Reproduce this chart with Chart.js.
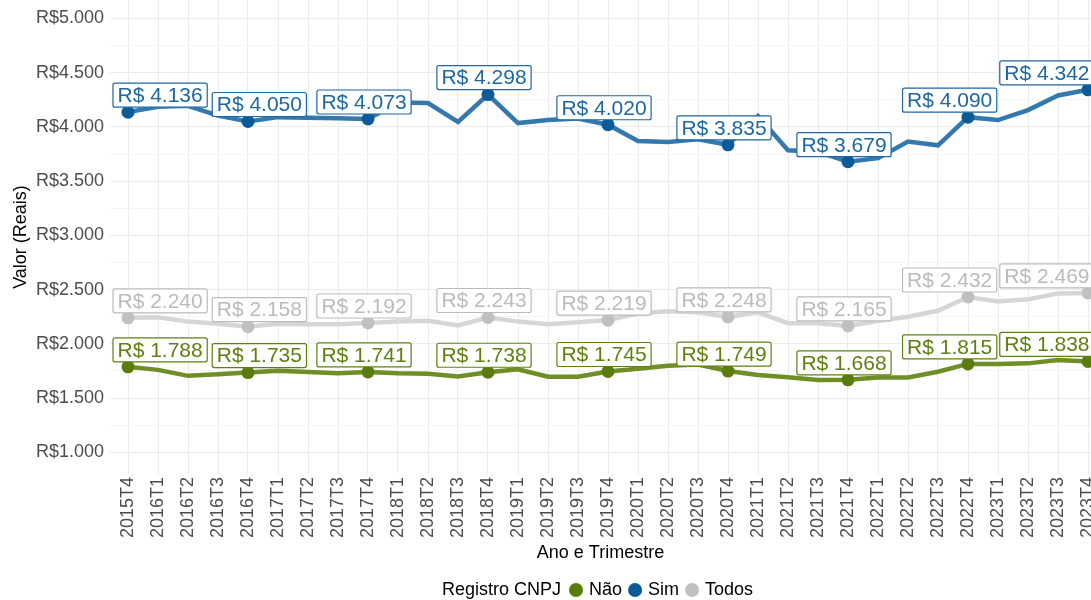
<!DOCTYPE html>
<html>
<head>
<meta charset="utf-8">
<script src="https://cdn.jsdelivr.net/npm/chart.js@4.4.1/dist/chart.umd.min.js"></script>
<style>
  body { margin: 0; background: #ffffff; }
  #wrap { width: 1091px; height: 600px; }
</style>
</head>
<body>
<div id="wrap"><canvas id="chart" width="1091" height="600"></canvas></div>
<script>
// Quarters on the x axis
const quarters = [
  '2015T4',
  '2016T1', '2016T2', '2016T3', '2016T4',
  '2017T1', '2017T2', '2017T3', '2017T4',
  '2018T1', '2018T2', '2018T3', '2018T4',
  '2019T1', '2019T2', '2019T3', '2019T4',
  '2020T1', '2020T2', '2020T3', '2020T4',
  '2021T1', '2021T2', '2021T3', '2021T4',
  '2022T1', '2022T2', '2022T3', '2022T4',
  '2023T1', '2023T2', '2023T3', '2023T4'
];

// Series values (R$)
const sim = [4136, 4185, 4195, 4105, 4050, 4090, 4085, 4080, 4073, 4225, 4220, 4045, 4298,
  4035, 4063, 4078, 4020, 3870, 3860, 3885, 3835, 4100, 3785, 3770, 3679,
  3712, 3865, 3830, 4090, 4063, 4155, 4290, 4342];
const todos = [2240, 2245, 2205, 2185, 2158, 2185, 2180, 2180, 2192, 2205, 2213, 2170, 2243,
  2205, 2180, 2200, 2219, 2280, 2300, 2290, 2248, 2290, 2190, 2190, 2165,
  2210, 2250, 2305, 2432, 2390, 2410, 2465, 2469];
const nao = [1788, 1760, 1705, 1720, 1735, 1752, 1740, 1728, 1741, 1728, 1724, 1700, 1738,
  1765, 1697, 1697, 1745, 1771, 1798, 1810, 1749, 1712, 1691, 1667, 1668,
  1690, 1690, 1743, 1815, 1815, 1820, 1850, 1838];

// Y ticks (major every 500, minor every 250)
const yTicks = [1000, 1250, 1500, 1750, 2000, 2250, 2500, 2750, 3000, 3250, 3500, 3750, 4000, 4250, 4500, 4750, 5000];

const fmt = v => Math.round(v).toString().replace(/\B(?=(\d{3})+(?!\d))/g, '.');

const series = [
  { label: 'Não', values: nao, line: '#6f8f26', point: '#5a7c0c', text: '#5e800f' },
  { label: 'Sim', values: sim, line: '#3479ad', point: '#0b5b99', text: '#1d67a3' },
  { label: 'Todos', values: todos, line: '#d6d6d6', point: '#c0c0c0', text: '#bbbbbb' }
];

const isT4 = i => i % 4 === 0;

// Boxed value labels on every 4th quarter
const labelPlugin = {
  id: 'valueLabels',
  afterDatasetsDraw(chart) {
    const ctx = chart.ctx;
    const area = chart.chartArea;
    ctx.save();
    ctx.font = '21px "Liberation Sans", Arial, sans-serif';
    ctx.textBaseline = 'middle';
    ctx.textAlign = 'left';
    chart.data.datasets.forEach((ds, di) => {
      const meta = chart.getDatasetMeta(di);
      const s = series[di];
      const boxes = [];
      ds.data.forEach((d, i) => {
        if (!isT4(i)) return;
        const el = meta.data[i];
        const text = 'R$ ' + fmt(d.y);
        const w = ctx.measureText(text).width + 9;
        const h = 24;
        let left = el.x - 4 - w / 2;
        left = Math.max(left, area.left + 3);
        boxes.push({ text, left, w, h, bottom: el.y - 5 });
      });
      // push right
      for (let k = 1; k < boxes.length; k++) {
        const minLeft = boxes[k - 1].left + boxes[k - 1].w + 5;
        if (boxes[k].left < minLeft) boxes[k].left = minLeft;
      }
      // clamp right edge and push left
      const last = boxes[boxes.length - 1];
      last.left = Math.min(last.left, chart.width + 3 - last.w);
      for (let k = boxes.length - 2; k >= 0; k--) {
        const maxRight = boxes[k + 1].left - 3;
        if (boxes[k].left + boxes[k].w > maxRight) boxes[k].left = maxRight - boxes[k].w;
      }
      boxes.forEach(b => {
        const top = b.bottom - b.h;
        ctx.fillStyle = '#ffffff';
        ctx.strokeStyle = s.text;
        ctx.lineWidth = 1.2;
        ctx.beginPath();
        ctx.roundRect(b.left, top, b.w, b.h, 2);
        ctx.fill();
        ctx.stroke();
        ctx.fillStyle = s.text;
        ctx.fillText(b.text, b.left + 4.5, top + b.h / 2 + 1);
      });
    });
    ctx.restore();
  }
};

// Legend with inline title, like the original
const legendPlugin = {
  id: 'inlineLegend',
  afterDraw(chart) {
    const ctx = chart.ctx;
    ctx.save();
    ctx.font = '18px "Liberation Sans", Arial, sans-serif';
    ctx.textBaseline = 'middle';
    ctx.textAlign = 'left';
    const title = 'Registro CNPJ';
    const r = 7;
    let x = 442;
    const y = 590;
    ctx.fillStyle = '#000000';
    ctx.fillText(title, x, y);
    x += ctx.measureText(title).width + 8;
    series.forEach(s => {
      ctx.fillStyle = s.point;
      ctx.beginPath();
      ctx.arc(x + r, y, r, 0, Math.PI * 2);
      ctx.fill();
      x += 2 * r + 6;
      ctx.fillStyle = '#000000';
      ctx.fillText(s.label, x, y);
      x += ctx.measureText(s.label).width + 6;
    });
    ctx.restore();
  }
};

const tickFont = { family: '"Liberation Sans", Arial, sans-serif', size: 18 };

new Chart(document.getElementById('chart'), {
  type: 'line',
  data: {
    datasets: series.map(s => ({
      label: s.label,
      data: s.values.map((v, i) => ({ x: i, y: v })),
      borderColor: s.line,
      backgroundColor: s.point,
      borderWidth: 4.5,
      tension: 0,
      clip: false,
      pointRadius: ctx => isT4(ctx.dataIndex) ? 6.5 : 0,
      pointHoverRadius: 0,
      pointBorderWidth: 0,
      pointBackgroundColor: s.point
    }))
  },
  options: {
    responsive: false,
    animation: false,
    devicePixelRatio: 1,
    layout: { autoPadding: false, padding: { left: 0, right: 0, top: 0, bottom: 35 } },
    plugins: {
      legend: { display: false },
      tooltip: { enabled: false }
    },
    scales: {
      x: {
        type: 'linear',
        min: -0.6,
        max: 32.1,
        afterBuildTicks: scale => { scale.ticks = quarters.map((q, i) => ({ value: i })); },
        afterFit: scale => {
          scale.height = 91;
          scale.paddingLeft = 0; scale.paddingRight = 0;
        },
        ticks: {
          autoSkip: false,
          maxRotation: 90,
          minRotation: 90,
          padding: 3,
          color: '#4d4d4d',
          font: tickFont,
          callback: v => quarters[v]
        },
        grid: { color: '#ebebeb', lineWidth: 1, drawTicks: false },
        border: { display: false },
        title: {
          display: true,
          text: 'Ano e Trimestre',
          color: '#000000',
          font: { family: '"Liberation Sans", Arial, sans-serif', size: 18 },
          padding: { top: 0, bottom: 1 }
        }
      },
      y: {
        min: 800,
        max: 5170,
        afterBuildTicks: scale => { scale.ticks = yTicks.map(v => ({ value: v })); },
        afterFit: scale => {
          scale.width = 110;
          scale.paddingTop = 0; scale.paddingBottom = 0;
        },
        ticks: {
          padding: 6,
          color: '#4d4d4d',
          font: tickFont,
          callback: v => (v % 500 === 0 ? 'R$' + fmt(v) : '')
        },
        grid: {
          color: ctx => (ctx.tick && ctx.tick.value % 500 === 0 ? '#ebebeb' : '#f3f3f3'),
          lineWidth: ctx => (ctx.tick && ctx.tick.value % 500 === 0 ? 1.1 : 0.8),
          drawTicks: false
        },
        border: { display: false },
        title: {
          display: true,
          text: 'Valor (Reais)',
          color: '#000000',
          font: { family: '"Liberation Sans", Arial, sans-serif', size: 18 },
          padding: { top: 10, bottom: 0 }
        }
      }
    }
  },
  plugins: [labelPlugin, legendPlugin]
});
</script>
</body>
</html>
